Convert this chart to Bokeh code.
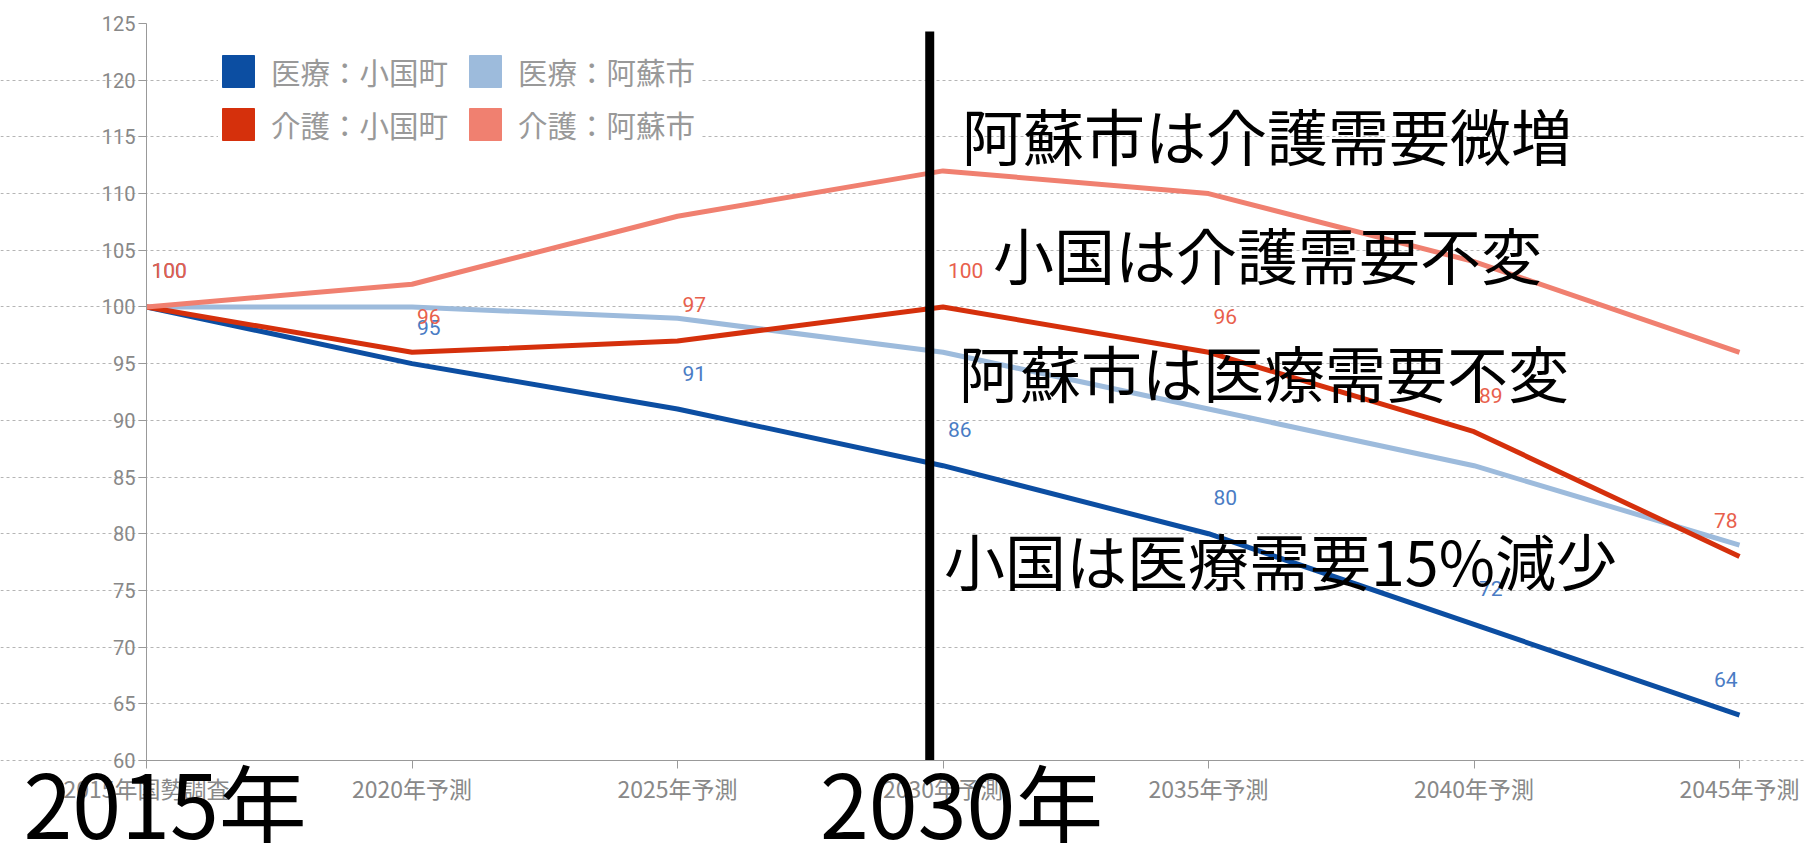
from bokeh.plotting import figure
from bokeh.models import Range1d, FixedTicker, Legend, LegendItem, Label, ColumnDataSource
from bokeh.core.properties import value
from bokeh.embed import file_html
from bokeh.resources import INLINE

# ---- data ----
CATEGORIES = ["2015年国勢調査", "2020年予測", "2025年予測", "2030年予測",
              "2035年予測", "2040年予測", "2045年予測"]
IRYO_OGUNI = [100, 95, 91, 86, 80, 72, 64]      # 医療：小国町
IRYO_ASO = [100, 100, 99, 96, 91, 86, 79]       # 医療：阿蘇市
KAIGO_OGUNI = [100, 96, 97, 100, 96, 89, 78]    # 介護：小国町
KAIGO_ASO = [100, 102, 108, 112, 110, 104, 96]  # 介護：阿蘇市
SERIES_NAMES = ["医療：小国町", "医療：阿蘇市", "介護：小国町", "介護：阿蘇市"]
Y_TICKS = [60, 65, 70, 75, 80, 85, 90, 95, 100, 105, 110, 115, 120, 125]
BIG_YEARS = ["2015年", "2030年"]
BIG_YEAR_CATS = ["2015年国勢調査", "2030年予測"]
MARK_CAT = "2030年予測"
NOTES = ["阿蘇市は介護需要微増", "小国は介護需要不変", "阿蘇市は医療需要不変", "小国は医療需要15%減少"]

# ---- styles / layout ----
C_BLUE = "#0c4ea2"
C_LBLUE = "#9dbbdc"
C_RED = "#d5300c"
C_SALMON = "#f08070"
C_LBL_BLUE = "#4a7cc4"
C_LBL_RED = "#e8604c"
JP_NAME = "Noto Sans CJK JP"
NUM = value("Roboto")

W, H = 1806, 843
PLOT_L, PLOT_R = 146, 1739      # pixel columns of first / last category
PLOT_T, PLOT_B = 23, 760        # pixel rows of top tick / x axis
xs = list(range(len(CATEGORIES)))
ymin, ymax = Y_TICKS[0], Y_TICKS[-1]
n = len(CATEGORIES) - 1
ux = n / (PLOT_R - PLOT_L)            # x units per px
uy = (ymax - ymin) / (PLOT_B - PLOT_T)  # y units per px
x_lo, x_hi = -PLOT_L * ux, n + (W - PLOT_R) * ux
y_lo, y_hi = ymax - (H - PLOT_T) * uy, ymax + PLOT_T * uy


def y_at_px(py):
    return ymax - (py - PLOT_T) * uy


p = figure(width=W, height=H, output_backend="svg", toolbar_location=None,
           x_range=Range1d(x_lo, x_hi), y_range=Range1d(y_lo, y_hi),
           min_border_left=0, min_border_right=0, min_border_top=0, min_border_bottom=0)
p.outline_line_color = None
p.background_fill_color = "white"
p.border_fill_color = "white"

# grid
p.xgrid.visible = False
p.ygrid.ticker = FixedTicker(ticks=Y_TICKS[:-1])
p.ygrid.bounds = (0, n)
p.ygrid.grid_line_color = "#b5b5b5"
p.ygrid.grid_line_dash = "3 3"
p.ygrid.grid_line_width = 1

# axes
p.yaxis.fixed_location = 0
p.yaxis.ticker = FixedTicker(ticks=Y_TICKS)
p.yaxis.bounds = (ymin, ymax)
p.yaxis.axis_line_color = "#999999"
p.yaxis.major_tick_line_color = "#999999"
p.yaxis.major_tick_out = 8
p.yaxis.major_tick_in = 0
p.yaxis.minor_tick_line_color = None
p.yaxis.major_label_text_color = "#888888"
p.yaxis.major_label_text_font = "Roboto"
p.yaxis.major_label_text_font_size = "20px"
p.yaxis.major_label_standoff = 3

p.xaxis.fixed_location = ymin
p.xaxis.ticker = FixedTicker(ticks=xs)
p.xaxis.bounds = (0, n)
p.xaxis.major_label_overrides = {i: c for i, c in enumerate(CATEGORIES)}
p.xaxis.axis_line_color = "#999999"
p.xaxis.major_tick_line_color = "#999999"
p.xaxis.major_tick_out = 8
p.xaxis.major_tick_in = 0
p.xaxis.minor_tick_line_color = None
p.xaxis.major_label_text_color = "#888888"
p.xaxis.major_label_text_font = JP_NAME
p.xaxis.major_label_text_font_size = "23px"
p.xaxis.major_label_standoff = 2

# lines
series = [(IRYO_OGUNI, C_BLUE), (IRYO_ASO, C_LBLUE), (KAIGO_OGUNI, C_RED), (KAIGO_ASO, C_SALMON)]
for vals, col in series:
    p.line(xs, vals, line_color=col, line_width=5)

# data labels (小国町)
for vals, col in [(IRYO_OGUNI, C_LBL_BLUE), (KAIGO_OGUNI, C_LBL_RED)]:
    labels = [str(v) for v in vals]
    src_a = ColumnDataSource(dict(x=xs[:-1], y=vals[:-1], t=labels[:-1]))
    src_b = ColumnDataSource(dict(x=xs[-1:], y=vals[-1:], t=labels[-1:]))
    p.text("x", "y", text="t", source=src_a, text_color=col, text_font=NUM,
           text_font_size="21px", text_align="left", text_baseline="middle",
           x_offset=5, y_offset=-36)
    p.text("x", "y", text="t", source=src_b, text_color=col, text_font=NUM,
           text_font_size="21px", text_align="right", text_baseline="middle",
           x_offset=-2, y_offset=-36)

# vertical marker at 2030
mx = CATEGORIES.index(MARK_CAT) - 0.05
p.segment(x0=[mx], y0=[ymin], x1=[mx], y1=[124.3], line_color="black", line_width=9)

# legend (square swatches)
nan = float("nan")
legend_renderers = {}
for name, col in zip(SERIES_NAMES, [C_BLUE, C_LBLUE, C_RED, C_SALMON]):
    legend_renderers[name] = p.quad(left=[nan], right=[nan], top=[nan], bottom=[nan],
                                    fill_color=col, line_color=col)
order = [SERIES_NAMES[0], SERIES_NAMES[2], SERIES_NAMES[1], SERIES_NAMES[3]]
legend = Legend(items=[LegendItem(label=nm, renderers=[legend_renderers[nm]]) for nm in order],
                nrows=2, orientation="vertical", location=(218, 698),
                glyph_width=40, glyph_height=40, label_standoff=13, spacing=11,
                label_width=183, padding=46, margin=0,
                label_text_font=JP_NAME, label_text_font_size="29.5px",
                label_text_color="#999999",
                border_line_color=None, background_fill_color="white",
                background_fill_alpha=1.0)
p.add_layout(legend, "center")

# annotations
mark_i = CATEGORIES.index(MARK_CAT)
note_pos = [(115.2, 19), (104.7, 50), (94.3, 16), (77.7, 1)]
for txt, (yy, xo) in zip(NOTES, note_pos):
    p.add_layout(Label(x=mark_i, y=yy, x_offset=xo, text=txt, text_font=JP_NAME,
                       text_font_size="61px", text_color="black",
                       text_align="left", text_baseline="middle"))

for txt, cat in zip(BIG_YEARS, BIG_YEAR_CATS):
    p.add_layout(Label(x=CATEGORIES.index(cat), y=y_at_px(800), x_offset=-123, text=txt,
                       text_font=JP_NAME, text_font_size="88px", text_color="black",
                       text_align="left", text_baseline="middle"))

open("out.html", "w").write(file_html(p, INLINE))
